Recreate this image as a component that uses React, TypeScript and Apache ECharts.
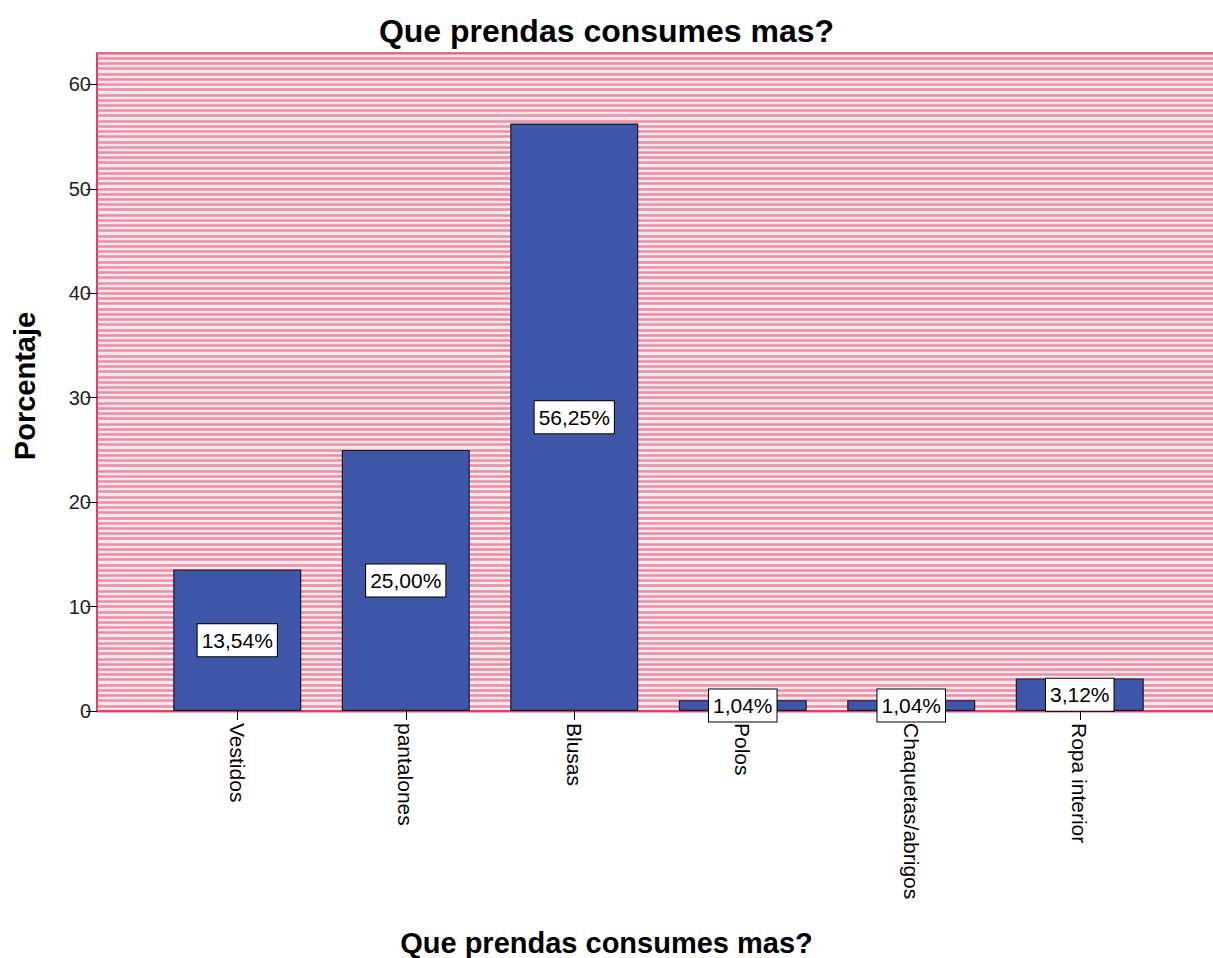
import React, { useEffect, useRef } from "react";
import * as echarts from "echarts";

const categories = ["Vestidos", "pantalones", "Blusas", "Polos", "Chaquetas/abrigos", "Ropa interior"];
const percentages = [13.54, 25.0, 56.25, 1.04, 1.04, 3.12];
const yTicks = [0, 10, 20, 30, 40, 50, 60];
const chartTitle = "Que prendas consumes mas?";
const xName = "Que prendas consumes mas?";
const yName = "Porcentaje";

const FONT = "Liberation Sans, Arial, sans-serif";
const Y_MAX = 63;

export default function App() {
  const ref = useRef<HTMLDivElement>(null);
  useEffect(() => {
    if (!ref.current) return;
    const chart = echarts.init(ref.current, undefined, { renderer: "svg" });
    chart.setOption({
      animation: false,
      backgroundColor: "#ffffff",
      title: [
        {
          text: chartTitle,
          left: "center",
          top: 10,
          textStyle: { fontFamily: FONT, fontWeight: "bold", fontSize: 32, color: "#000" },
        },
        {
          text: xName,
          left: "center",
          top: 923,
          textStyle: { fontFamily: FONT, fontWeight: "bold", fontSize: 29, color: "#000" },
        },
      ],
      graphic: [
        {
          type: "text",
          x: 25,
          y: 386,
          rotation: Math.PI / 2,
          style: {
            text: yName,
            font: `bold 29px ${FONT}`,
            fill: "#000",
            align: "center",
            verticalAlign: "middle",
          },
        },
      ],
      grid: [
        { left: 97, right: -30, top: 53, bottom: 247, show: true, backgroundColor: "#ebebeb", borderWidth: 0 },
        { left: 153, right: 49, top: 53, bottom: 247 },
      ],
      xAxis: [
        {
          gridIndex: 0,
          type: "value",
          min: 0,
          max: 1,
          axisLine: { show: true, lineStyle: { color: "#e0406a", width: 2 } },
          axisTick: { show: false },
          axisLabel: { show: false },
          splitLine: { show: false },
        },
        {
          gridIndex: 1,
          type: "category",
          data: categories,
          axisLine: { show: false },
          axisTick: { show: true, alignWithLabel: true, length: 9, lineStyle: { color: "#000" } },
          axisLabel: { rotate: -90, fontFamily: FONT, fontSize: 21, color: "#000", margin: 12 },
        },
        {
          gridIndex: 0,
          type: "value",
          position: "top",
          min: 0,
          max: 1,
          axisLine: { show: true, onZero: false, lineStyle: { color: "#e8557a", width: 1.5 } },
          axisTick: { show: false },
          axisLabel: { show: false },
          splitLine: { show: false },
        },
      ],
      yAxis: [
        {
          gridIndex: 0,
          type: "value",
          min: 0,
          max: Y_MAX,
          interval: 10,
          axisLine: { show: true, lineStyle: { color: "#e0406a", width: 2 } },
          axisTick: { show: true, length: 11, customValues: yTicks, lineStyle: { color: "#000" } },
          axisLabel: {
            fontFamily: FONT,
            fontSize: 20,
            color: "#222",
            margin: 6,
            customValues: yTicks,
          },
          splitLine: { show: false },
        },
        {
          gridIndex: 0,
          type: "value",
          min: 0,
          max: Y_MAX,
          interval: 0.5,
          show: true,
          axisLine: { show: false },
          axisTick: { show: false },
          axisLabel: { show: false },
          splitLine: { show: true, lineStyle: { color: "#f48aa6", width: 2.6 } },
        },
        {
          gridIndex: 1,
          type: "value",
          min: 0,
          max: Y_MAX,
          show: false,
          splitLine: { show: false },
        },
      ],
      series: [
        {
          type: "bar",
          xAxisIndex: 1,
          yAxisIndex: 2,
          data: percentages,
          barWidth: 128,
          itemStyle: { color: "#3e57a8", borderColor: "#1a1a2a", borderWidth: 1.2 },
          label: {
            show: true,
            position: "inside",
            formatter: (p: any) => p.value.toFixed(2).replace(".", ",") + "%",
            fontFamily: FONT,
            fontSize: 21,
            color: "#000",
            backgroundColor: "#ffffff",
            borderColor: "#000",
            borderWidth: 1,
            padding: [6, 4, 5, 4],
          },
        },
      ],
    });
    return () => chart.dispose();
  }, []);
  return (
    <div
      ref={ref}
      style={{ position: "fixed", left: 0, top: 0, width: 1213, height: 958 }}
    />
  );
}
